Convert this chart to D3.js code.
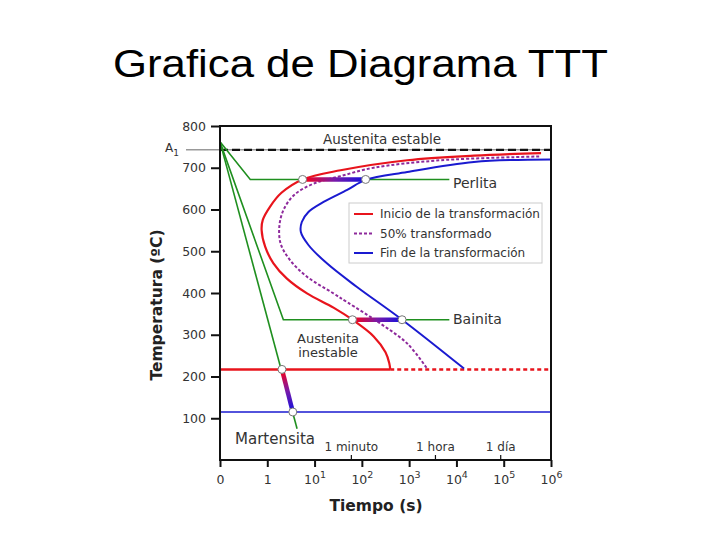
<!DOCTYPE html>
<html>
<head>
<meta charset="utf-8">
<script src="https://cdn.jsdelivr.net/npm/d3@7"></script>
<style>
  body { margin: 0; background: #fff; }
  svg { display: block; }
</style>
</head>
<body>
<div id="chart"></div>
<script>
// x is in "decade position": 0 -> "0", 1 -> 1 s, 2 -> 10 s ... 7 -> 10^6 s
var timeTicks = [0, 1, 2, 3, 4, 5, 6, 7]
var timeTickLabels = [["0"], ["1"], ["10", "1"], ["10", "2"], ["10", "3"], ["10", "4"], ["10", "5"], ["10", "6"]]
var timeMarks = [
   {label: "1 minuto", seconds: 60},
   {label: "1 hora", seconds: 3600},
   {label: "1 día", seconds: 86400}
]
var tempTicks = [100, 200, 300, 400, 500, 600, 700, 800]
var A1 = 743
var Ms = 217
var Mf = 115

// transformation curves [decade position, temperature]
var startCurve = [
   [6.79, 735], [5.37, 729], [3.96, 718], [2.55, 694], [1.746, 672], [1.30, 640],
   [1.06, 607], [0.905, 575], [0.88, 551], [0.955, 511], [1.13, 471], [1.41, 435],
   [1.84, 399], [2.40, 365], [2.8, 336], [3.25, 296], [3.50, 258], [3.58, 232], [3.6, 217]
]
var halfCurve = [
   [6.75, 727], [4.67, 718], [3.25, 700], [2.55, 680], [1.98, 662], [1.58, 636],
   [1.36, 603], [1.26, 565], [1.28, 519], [1.48, 479], [1.84, 439], [2.40, 399],
   [2.69, 378], [3.39, 327], [3.96, 279], [4.38, 219]
]
var endCurve = [
   [7.0, 720], [5.37, 714], [3.96, 690], [3.08, 671], [2.69, 647], [2.19, 618],
   [1.87, 594], [1.73, 570], [1.71, 546], [1.87, 515], [2.26, 471], [2.89, 415],
   [3.85, 336], [5.16, 219]
]
// cooling paths
var coolingCurves = [
   {name: "Perlita", points: [[0, 762], [0.64, 672], [4.85, 672]]},
   {name: "Bainita", points: [[0, 762], [1.34, 336], [4.85, 336]]},
   {name: "Martensita", points: [[0, 762], [1.63, 75]]}
]
// transformation segments along cooling paths
var transformSegments = [
   [[1.746, 672], [3.08, 672]],
   [[2.8, 336], [3.85, 336]],
   [[1.31, Ms], [1.54, Mf]]
]
var legendItems = [
   {label: "Inicio de la transformación", color: "#e8141c", dash: null},
   {label: "50% transformado", color: "#8e2a9c", dash: "3,2"},
   {label: "Fin de la transformación", color: "#1a1ad0", dash: null}
]

var width = 720, height = 540
var margin = {left: 220, right: 169, top: 126, bottom: 80}
var red = "#e8141c", blue = "#1a1ad0", purple = "#8e2a9c", green = "#1f8f1f"
var font = "DejaVu Sans, sans-serif"

var svg = d3.select("#chart").append("svg")
   .attr("width", width)
   .attr("height", height)

svg.append("text")
   .attr("x", 113).attr("y", 77)
   .attr("font-family", "Liberation Sans, Arial, sans-serif")
   .attr("font-size", 38)
   .attr("textLength", 495)
   .attr("lengthAdjust", "spacingAndGlyphs")
   .text("Grafica de Diagrama TTT")

var x = d3.scaleLinear().domain([0, 7]).range([margin.left, width - margin.right])
var y = d3.scaleLinear().domain([0, 800]).range([height - margin.bottom, margin.top])

var defs = svg.append("defs")

// A1 line
svg.append("line")
   .attr("x1", 186).attr("x2", x(7))
   .attr("y1", y(A1)).attr("y2", y(A1))
   .attr("stroke", "#999").attr("stroke-width", 1.5)
svg.append("text")
   .attr("x", 165).attr("y", y(A1) + 2)
   .attr("font-family", font).attr("font-size", 12).attr("fill", "#333")
   .text("A")
   .append("tspan").attr("dy", 4).attr("font-size", 9).text("1")
svg.append("line")
   .attr("x1", x(0)).attr("x2", x(7))
   .attr("y1", y(A1)).attr("y2", y(A1))
   .attr("stroke", "#111").attr("stroke-width", 2.2)
   .attr("stroke-dasharray", "8,4")

svg.append("text")
   .attr("x", 382).attr("y", 144)
   .attr("text-anchor", "middle")
   .attr("font-family", font).attr("font-size", 13.5).attr("fill", "#333")
   .text("Austenita estable")

var line = d3.line()
   .x(function(d) { return x(d[0]) })
   .y(function(d) { return y(d[1]) })
var smooth = d3.line()
   .x(function(d) { return x(d[0]) })
   .y(function(d) { return y(d[1]) })
   .curve(d3.curveCatmullRom.alpha(0.5))

// Ms and Mf lines
svg.append("line")
   .attr("x1", x(0)).attr("x2", x(3.6))
   .attr("y1", y(Ms)).attr("y2", y(Ms))
   .attr("stroke", red).attr("stroke-width", 2.5)
svg.append("line")
   .attr("x1", x(3.6)).attr("x2", x(7))
   .attr("y1", y(Ms)).attr("y2", y(Ms))
   .attr("stroke", red).attr("stroke-width", 2.5)
   .attr("stroke-dasharray", "4,3")
svg.append("line")
   .attr("x1", x(0)).attr("x2", x(7))
   .attr("y1", y(Mf)).attr("y2", y(Mf))
   .attr("stroke", blue).attr("stroke-width", 1.5)

// cooling paths
svg.selectAll("path.cooling").data(coolingCurves).enter().append("path")
   .attr("class", "cooling")
   .attr("d", function(d) { return line(d.points) })
   .attr("fill", "none")
   .attr("stroke", green)
   .attr("stroke-width", 1.6)

// transformation curves
svg.append("path").attr("d", smooth(endCurve))
   .attr("fill", "none").attr("stroke", blue).attr("stroke-width", 2)
svg.append("path").attr("d", smooth(halfCurve))
   .attr("fill", "none").attr("stroke", purple).attr("stroke-width", 2)
   .attr("stroke-dasharray", "3,2")
svg.append("path").attr("d", smooth(startCurve))
   .attr("fill", "none").attr("stroke", red).attr("stroke-width", 2.2)

// thick gradient segments
transformSegments.forEach(function(seg, i) {
   var g = defs.append("linearGradient")
      .attr("id", "grad" + i)
      .attr("gradientUnits", "userSpaceOnUse")
      .attr("x1", x(seg[0][0])).attr("y1", y(seg[0][1]))
      .attr("x2", x(seg[1][0])).attr("y2", y(seg[1][1]))
   g.append("stop").attr("offset", "0%").attr("stop-color", "#ff0010")
   g.append("stop").attr("offset", "50%").attr("stop-color", "#7a1aa8")
   g.append("stop").attr("offset", "100%").attr("stop-color", "#1010e0")
   svg.append("path")
      .attr("d", line(seg))
      .attr("stroke", "url(#grad" + i + ")")
      .attr("stroke-width", 4.5)
      .attr("fill", "none")
})

// markers
var markers = []
transformSegments.forEach(function(seg) { markers.push(seg[0], seg[1]) })
svg.selectAll("circle.marker").data(markers).enter().append("circle")
   .attr("class", "marker")
   .attr("cx", function(d) { return x(d[0]) })
   .attr("cy", function(d) { return y(d[1]) })
   .attr("r", 4)
   .attr("fill", "#fff")
   .attr("stroke", "#777")
   .attr("stroke-width", 1)

// region labels
svg.append("text").attr("x", 453).attr("y", 188)
   .attr("font-family", font).attr("font-size", 14).attr("fill", "#333").text("Perlita")
svg.append("text").attr("x", 453).attr("y", 324)
   .attr("font-family", font).attr("font-size", 14).attr("fill", "#333").text("Bainita")
svg.append("text").attr("x", 235).attr("y", 444)
   .attr("font-family", font).attr("font-size", 15).attr("fill", "#333").text("Martensita")
svg.append("text").attr("x", 328).attr("y", 343)
   .attr("text-anchor", "middle")
   .attr("font-family", font).attr("font-size", 13).attr("fill", "#333").text("Austenita")
svg.append("text").attr("x", 328).attr("y", 357)
   .attr("text-anchor", "middle")
   .attr("font-family", font).attr("font-size", 13).attr("fill", "#333").text("inestable")

// legend
var lg = svg.append("g").attr("transform", "translate(349,203)")
lg.append("rect")
   .attr("width", 193).attr("height", 60)
   .attr("fill", "#fff").attr("stroke", "#ccc").attr("stroke-width", 1)
legendItems.forEach(function(d, i) {
   var yy = 11 + i * 19.5
   lg.append("line")
      .attr("x1", 5).attr("x2", 24).attr("y1", yy).attr("y2", yy)
      .attr("stroke", d.color).attr("stroke-width", 2)
      .attr("stroke-dasharray", d.dash)
   lg.append("text")
      .attr("x", 31).attr("y", yy + 4)
      .attr("font-family", font).attr("font-size", 12).attr("fill", "#333")
      .text(d.label)
})

// frame
svg.append("rect")
   .attr("x", x(0)).attr("y", y(800))
   .attr("width", x(7) - x(0)).attr("height", y(0) - y(800))
   .attr("fill", "none").attr("stroke", "#111").attr("stroke-width", 2)

// y axis
var yAxis = svg.append("g")
   .attr("transform", "translate(" + x(0) + ",0)")
   .call(d3.axisLeft(y).tickValues(tempTicks).tickSize(9).tickPadding(5))
yAxis.select(".domain").remove()
yAxis.selectAll("line").attr("stroke", "#111").attr("stroke-width", 2)
yAxis.selectAll("text").attr("font-family", font).attr("font-size", 12.5).attr("fill", "#333")

// x axis
var xAxis = svg.append("g")
   .attr("transform", "translate(0," + y(0) + ")")
   .call(d3.axisBottom(x).tickValues(timeTicks).tickSize(7).tickPadding(5).tickFormat(""))
xAxis.select(".domain").remove()
xAxis.selectAll("line").attr("stroke", "#111").attr("stroke-width", 2)
xAxis.selectAll(".tick").each(function(d, i) {
   var t = d3.select(this).append("text")
      .attr("y", 24)
      .attr("text-anchor", "middle")
      .attr("font-family", font).attr("font-size", 12.5).attr("fill", "#333")
      .text(timeTickLabels[i][0])
   if(timeTickLabels[i][1]) {
      t.append("tspan").attr("dy", -6).attr("font-size", 9.5).text(timeTickLabels[i][1])
   }
})

// time marks
timeMarks.forEach(function(m) {
   var px = x(Math.log10(m.seconds) + 1)
   svg.append("line")
      .attr("x1", px).attr("x2", px)
      .attr("y1", y(0)).attr("y2", y(0) - 5)
      .attr("stroke", "#111").attr("stroke-width", 1.2)
   svg.append("text")
      .attr("x", px).attr("y", y(0) - 9)
      .attr("text-anchor", "middle")
      .attr("font-family", font).attr("font-size", 12).attr("fill", "#333")
      .text(m.label)
})

// axis titles
svg.append("text")
   .attr("transform", "translate(162,305) rotate(-90)")
   .attr("text-anchor", "middle")
   .attr("font-family", font).attr("font-size", 15.5).attr("font-weight", "bold").attr("fill", "#222")
   .text("Temperatura (ºC)")
svg.append("text")
   .attr("x", 376).attr("y", 511)
   .attr("text-anchor", "middle")
   .attr("font-family", font).attr("font-size", 15.5).attr("font-weight", "bold").attr("fill", "#222")
   .text("Tiempo (s)")
</script>
</body>
</html>
